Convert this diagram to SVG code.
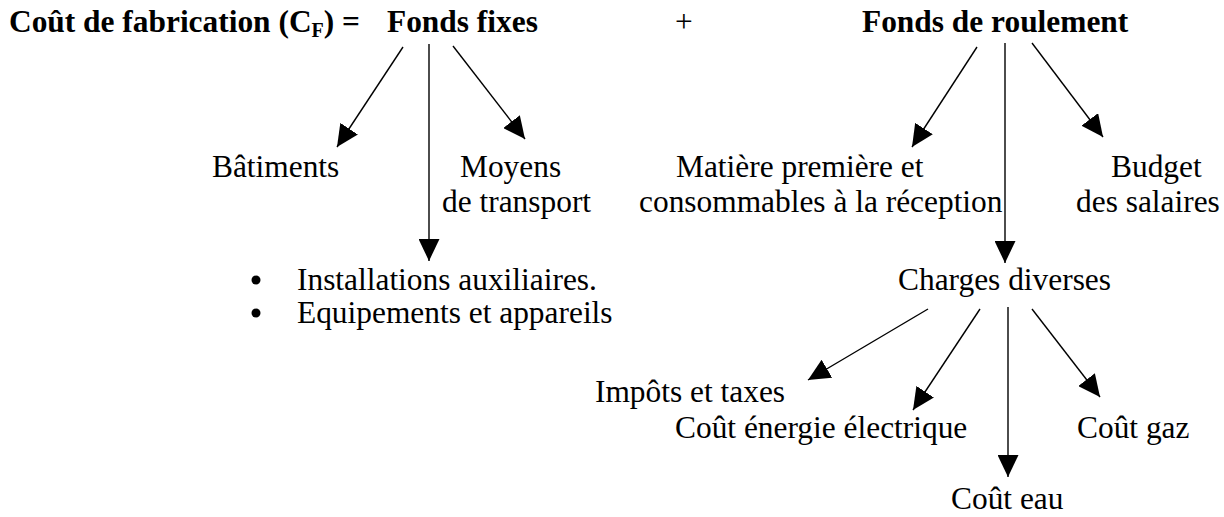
<svg xmlns="http://www.w3.org/2000/svg" width="1224" height="517" viewBox="0 0 1224 517">
<style>
  text { font-family: "Liberation Serif", "Times New Roman", serif; font-size: 31.4px; fill: #000; }
  .b { font-weight: bold; }
  .conn line { stroke: #000; stroke-width: 1.4; marker-end: url(#ah); }
</style>
<defs>
  <marker id="ah" markerUnits="userSpaceOnUse" markerWidth="22" markerHeight="21" viewBox="0 0 22 21" refX="22" refY="10.5" orient="auto">
    <path d="M0,0 L22,10.5 L0,21 z" fill="#000"/>
  </marker>
</defs>
<rect width="1224" height="517" fill="#fff"/>

<g id="title">
  <text class="b" x="9" y="32">Coût de fabrication (C<tspan font-size="20" dy="5">F</tspan><tspan dy="-5">) =</tspan></text>
</g>
<g id="fonds-fixes"><text class="b" x="387" y="32">Fonds fixes</text></g>
<g id="plus"><text x="675" y="32">+</text></g>
<g id="fonds-roulement"><text class="b" x="862" y="32">Fonds de roulement</text></g>

<g id="batiments"><text x="212" y="177">Bâtiments</text></g>
<g id="moyens-transport">
  <text x="460" y="177">Moyens</text>
  <text x="442" y="212">de transport</text>
</g>
<g id="installations">
  <circle cx="256" cy="280" r="4.5" fill="#000"/>
  <text x="297" y="290">Installations auxiliaires.</text>
  <circle cx="256" cy="313" r="4.5" fill="#000"/>
  <text x="297" y="323">Equipements et appareils</text>
</g>
<g id="matiere">
  <text x="676" y="177">Matière première et</text>
  <text x="639" y="212">consommables à la réception</text>
</g>
<g id="budget">
  <text x="1111" y="177">Budget</text>
  <text x="1076" y="212">des salaires</text>
</g>
<g id="charges"><text x="898" y="290">Charges diverses</text></g>
<g id="impots"><text x="595" y="402">Impôts et taxes</text></g>
<g id="electrique"><text x="675" y="438">Coût énergie électrique</text></g>
<g id="gaz"><text x="1077" y="438">Coût gaz</text></g>
<g id="eau"><text x="951" y="509">Coût eau</text></g>

<g id="connectors" class="conn">
  <line x1="403" y1="47" x2="337" y2="147"/>
  <line x1="429" y1="44" x2="429" y2="261"/>
  <line x1="453" y1="46" x2="525" y2="139"/>
  <line x1="977" y1="47" x2="912" y2="147"/>
  <line x1="1005" y1="43" x2="1005" y2="263"/>
  <line x1="1032" y1="43" x2="1103" y2="137"/>
  <line x1="928" y1="309" x2="808" y2="380"/>
  <line x1="980" y1="309" x2="913" y2="410"/>
  <line x1="1008" y1="307" x2="1008" y2="477"/>
  <line x1="1032" y1="309" x2="1100" y2="397"/>
</g>
</svg>
